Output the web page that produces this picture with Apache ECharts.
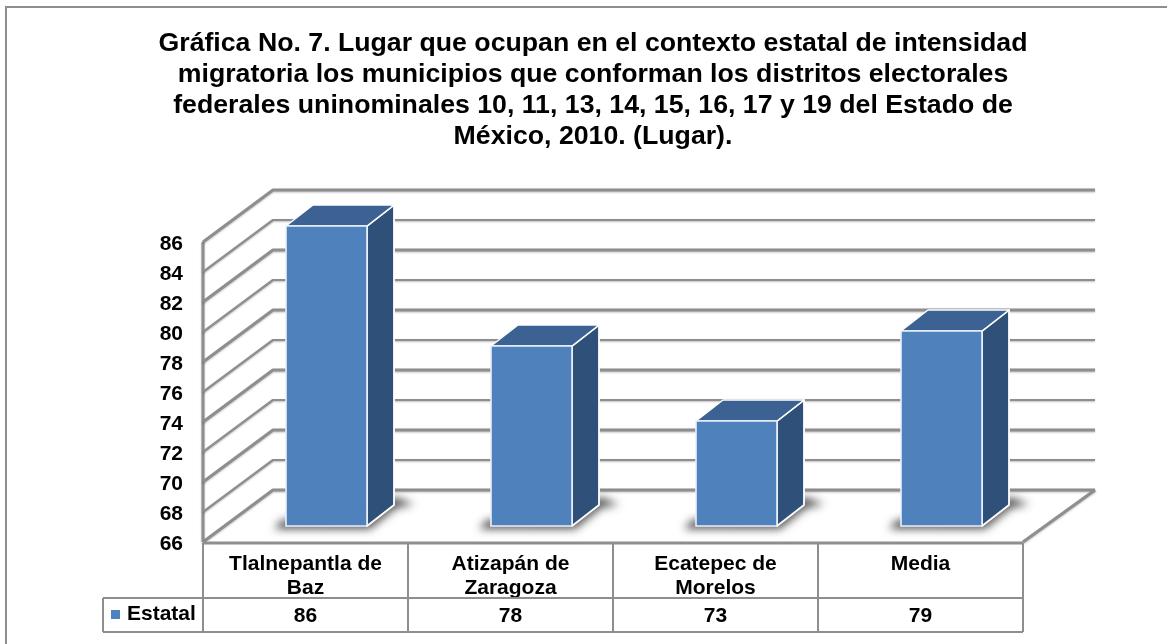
<!DOCTYPE html>
<html><head><meta charset="utf-8">
<style>html,body{margin:0;padding:0;background:#fff}#c{width:1167px;height:644px}</style>
<script src="https://cdn.jsdelivr.net/npm/echarts@6/dist/echarts.min.js"></script>
</head><body><div id="c"></div>
<script>
const titleLines = [
 'Gráfica No. 7. Lugar que ocupan en el contexto estatal de intensidad',
 'migratoria los municipios que conforman los distritos electorales',
 'federales uninominales 10, 11, 13, 14, 15, 16, 17 y 19 del Estado de',
 'México, 2010. (Lugar).'
];
const categories = ['Tlalnepantla de\nBaz','Atizapán de\nZaragoza','Ecatepec de\nMorelos','Media'];
const seriesName = 'Estatal';
const values = [86,78,73,79];
const yMin = 66, yMax = 86, yStep = 2;
const gridTicks = [66,68,70,72,74,76,78,80,82,84,86];

const WALL_DX = 70, WALL_DY = -52;
const BAR_DX = 21, BAR_DY = -16;
const DEPTH_DX = 27, DEPTH_DY = -21;
const LINE = '#8e8e8e', FONT = '"Liberation Sans", Arial, sans-serif';
const OFF = 3000;

function seg(pts, w){
  return {type:'polyline',shape:{points:pts},style:{fill:null,stroke:LINE,lineWidth:w,lineJoin:'round',
    shadowBlur:2,shadowColor:'rgba(0,0,0,0.25)',shadowOffsetY:1}};
}
function gridItem(params, api){
  const v = api.value(0);
  const gridR = params.coordSys.x + params.coordSys.width;
  const p = api.coord([0, v]);
  const x0 = params.coordSys.x, y = p[1];
  const w = (gridTicks.indexOf(v) % 2 === 0) ? 3 : 2.2;
  const children = [seg([[x0,y],[x0+WALL_DX,y+WALL_DY],[gridR+WALL_DX+2,y+WALL_DY]], w)];
  if (v === yMin) {
    children.push(seg([[gridR,y],[gridR+WALL_DX+2,y+WALL_DY]], 3));
    children.push(seg([[x0,api.coord([0,yMax])[1]],[x0,y]], 3));
  }
  return {type:'group',children};
}
function soft(pts, blur, color){
  return {type:'polygon',shape:{points:pts.map(p=>[p[0]-OFF,p[1]])},
    style:{fill:'#000',shadowBlur:blur,shadowColor:color,shadowOffsetX:OFF}};
}
function barItem(params, api){
  const i = api.value(0), v = api.value(1);
  const c = api.coord([i, v]), b = api.coord([i, yMin]);
  const w = 81, x = c[0]-w/2+BAR_DX, t = c[1]+BAR_DY, bt = b[1]+BAR_DY;
  const r = x+w;
  const dx = DEPTH_DX, dy = DEPTH_DY;
  return {type:'group',children:[
    soft([[x-12,bt+3],[r+3,bt+3],[r+dx+2,bt+dy+3],[r+dx+20,bt+dy-1],[r+dx,bt+dy-8],[r,bt-8],[x-4,bt-6]],8,'rgba(40,40,40,0.8)'),
    {type:'polygon',shape:{points:[[r,t],[r+dx,t+dy],[r+dx,bt+dy],[r,bt]]},
      style:{fill:'#2f5179',stroke:'#fff',lineWidth:1.8,lineJoin:'round'}},
    {type:'polygon',shape:{points:[[x,t],[x+dx,t+dy],[r+dx,t+dy],[r,t]]},
      style:{fill:'#3b6292',stroke:'#fff',lineWidth:1.4,lineJoin:'round'}},
    {type:'rect',shape:{x:x,y:t,width:w,height:bt-t},
      style:{fill:'#4f81bd',stroke:'#e9f0f8',lineWidth:1.6}}
  ]};
}
function tableItem(params, api){
  const i = api.value(0), v = api.value(1);
  const c = api.coord([i, yMin]);
  const half = api.size([1,0])[0]/2;
  const L = c[0]-half, R = c[0]+half, T = c[1]+1;
  const kids = [];
  const ln = (x1,y1,x2,y2,w)=>({type:'line',shape:{x1,y1,x2,y2},style:{stroke:LINE,lineWidth:w||2}});
  kids.push(ln(L,T,L,T+89));
  kids.push(ln(R,T,R,T+89));
  kids.push(ln(L,T+55,R,T+55));
  kids.push(ln(L,T+89,R,T+89));
  kids.push(ln(L,T,R,T,3));
  kids.push({type:'text',style:{text:String(v),x:c[0],y:T+73,align:'center',verticalAlign:'middle',
    fill:'#000',font:'bold 21px '+FONT}});
  if (i === 0){
    kids.push(ln(L-100,T+55,L,T+55));
    kids.push(ln(L-100,T+89,L,T+89));
    kids.push(ln(L-100,T+55,L-100,T+89));
  }
  return {type:'group',children:kids};
}

const chart = echarts.init(document.getElementById('c'),null,{renderer:'canvas'});
chart.setOption({
  animation:false,
  backgroundColor:'#fff',
  title:{text:titleLines.join('\n'),left:593,top:28,padding:0,textAlign:'center',
    textStyle:{fontFamily:FONT,fontWeight:'bold',fontSize:26.7,lineHeight:31,color:'#000'}},
  legend:{data:[seriesName],left:111,top:604,padding:0,itemWidth:9,itemHeight:9,itemGap:0,icon:'rect',
    textStyle:{fontFamily:FONT,fontWeight:'bold',fontSize:21,color:'#000',padding:[0,0,0,2]}},
  grid:{left:203,right:144,top:242,bottom:102,containLabel:false},
  xAxis:{type:'category',data:categories,axisLine:{show:false},axisTick:{show:false},
    axisLabel:{interval:0,margin:10,color:'#000',fontFamily:FONT,fontWeight:'bold',fontSize:21,lineHeight:24,verticalAlign:'top'}},
  yAxis:{type:'value',min:yMin,max:yMax,interval:yStep,splitLine:{show:false},axisLine:{show:false},axisTick:{show:false},
    axisLabel:{margin:20,formatter:'{n|{value}}',rich:{n:{color:'#000',fontFamily:FONT,fontWeight:'bold',fontSize:21,padding:[4,0,0,0]}}}},
  series:[
    {type:'custom',name:'grid',silent:true,z:1,clip:false,renderItem:gridItem,data:gridTicks.map(v=>[v]),encode:{y:0}},
    {type:'custom',name:'table',silent:true,z:2,clip:false,renderItem:tableItem,data:values.map((v,i)=>[i,v]),encode:{x:0}},
    {type:'custom',name:seriesName,z:3,clip:false,renderItem:barItem,itemStyle:{color:'#4f81bd'},data:values.map((v,i)=>[i,v]),encode:{x:0,y:1}}
  ],
  graphic:[{type:'polyline',silent:true,shape:{points:[[6,644],[6,7],[1167,7]]},style:{fill:null,stroke:'#8e8e8e',lineWidth:2}}]
});
</script></body></html>
